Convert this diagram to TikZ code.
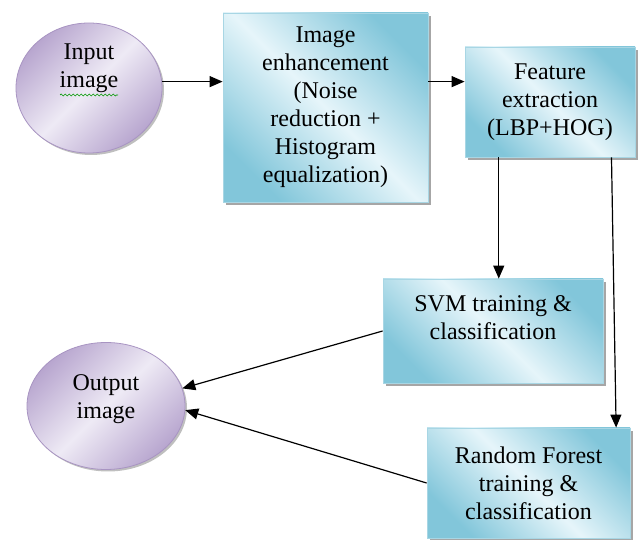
\documentclass[tikz,border=0pt]{standalone}
\usepackage{fontspec}
\setmainfont{Liberation Serif}
\usetikzlibrary{arrows.meta, shapes.geometric, shadows, calc, decorations.pathmorphing}

\definecolor{boxdark}{RGB}{130,198,218}
\definecolor{boxlight}{RGB}{230,245,250}
\definecolor{boxline}{RGB}{168,214,228}
\definecolor{iodark}{RGB}{184,166,207}
\definecolor{iolight}{RGB}{238,234,245}
\definecolor{ioline}{RGB}{168,148,194}

\begin{document}
\begin{tikzpicture}[
            x = 1pt, y = -1pt, % pixel grid, y pointing down
            > = {Triangle[length=13pt, width=11pt]}, % arrow head style
            line width = 1.2pt, % line style
            font = \fontsize{24}{28}\selectfont
        ]

        \tikzstyle{stage}=[
            rectangle,
            draw = boxline,
            line width = 0.8pt,
            align = center,
            inner sep = 0pt,
            top color = boxdark, bottom color = boxdark, middle color = boxlight,
            shading angle = -45,
            drop shadow = {shadow xshift = 3pt, shadow yshift = -3pt, fill = black!35, opacity = 1}
        ]
        \tikzstyle{io}=[
            ellipse,
            draw = ioline,
            line width = 0.8pt,
            inner sep = 0pt,
            top color = iodark, bottom color = iodark, middle color = iolight,
            shading angle = 45,
            drop shadow = {shadow xshift = 2pt, shadow yshift = -2pt, fill = black!25, opacity = 1}
        ]
        \tikzstyle{io text}=[align = center]

        \useasboundingbox (0,0) rectangle (641,540);

        \node[io, minimum width=146, minimum height=130,
            label={[io text, yshift=20]center:Input\\image}] (inp) at (89,88) {};
        \node[stage, minimum width=205, minimum height=189] (enh) at (325.5,107.5)
            {Image\\enhancement\\(Noise\\reduction +\\Histogram\\equalization)};
        \node[stage, minimum width=170, minimum height=110] (feat) at (550,102)
            {Feature\\extraction\\(LBP+HOG)};

        \node[stage, minimum width=220, minimum height=104,
            label={[io text, yshift=13]center:SVM training \&\\classification}] (svm) at (493,331) {};
        \node[stage, minimum width=203, minimum height=110] (rf) at (528.5,483)
            {Random Forest\\training \&\\classification};

        \node[io, minimum width=158, minimum height=127,
            label={[io text, yshift=7]center:Output\\image}] (out) at (106,406) {};

        % spell-check squiggle under "image"
        \draw[green!60!black, line width=0.7pt, decorate,
            decoration={snake, amplitude=1pt, segment length=4pt}] (60,95) -- (118,95);

        \coordinate (fsvm) at ($(feat.south west)!0.2!(feat.south east)$);
        \coordinate (frf) at ($(feat.south west)!0.86!(feat.south east)$);

        \path[->] (inp.5) edge (inp.5 -| enh.west);
        \path[->] (enh.east |- inp.5) edge (feat.west |- inp.5);
        \path[->] (fsvm) edge (fsvm |- svm.north);
        \path[->] (frf) edge ($(rf.north west)!0.93!(rf.north east)$);
        \path[->] (svm.west) edge (out.13);
        \path[->] (rf.west) edge (out.-3);
    \end{tikzpicture}
\end{document}
